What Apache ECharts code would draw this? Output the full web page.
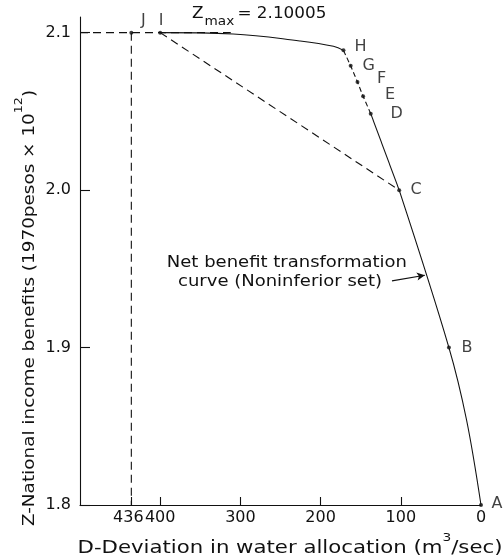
<!DOCTYPE html>
<html>
<head>
<meta charset="utf-8">
<script src="https://cdn.jsdelivr.net/npm/echarts@6/dist/echarts.min.js"></script>
<style>
  html, body { margin: 0; padding: 0; background: #fff; }
  #chart { width: 504px; height: 559px; }
</style>
</head>
<body>
<div id="chart"></div>
<script>
// Named points on the net benefit transformation curve
const pointNames = ['J', 'I', 'H', 'G', 'F', 'E', 'D', 'C', 'B', 'A'];
const pointD = [436, 400, 171.5, 162.5, 154, 147, 137.5, 102, 40, 0];
const pointZ = [2.10005, 2.10005, 2.0888, 2.079, 2.0687, 2.0596, 2.0486, 2.0, 1.9, 1.8];

// Upper part of the curve, from I to H
const upperD = [400, 309, 226, 184, 171.5];
const upperZ = [2.10005, 2.0992, 2.0948, 2.0914, 2.0888];

// Lower part of the curve, from C through B to A
const lowerD = [102, 40, 18, 0];
const lowerZ = [2.0, 1.9, 1.854, 1.8];

// Maximum benefit and the guide lines
const zMax = 2.10005;
const zMaxLineEnd = 312;

// Axis ticks
const xTicks = [436, 400, 300, 200, 100, 0];
const yTicks = [1.8, 1.9, 2.0, 2.1];

const ink = '#111';
const font = '"DejaVu Sans", sans-serif';

const zip = (a, b) => a.map((v, i) => [v, b[i]]);
const idx = n => pointNames.indexOf(n);
const pt = n => [pointD[idx(n)], pointZ[idx(n)]];

// Label offsets for each named point (pixels from the dot)
const labelOffset = {
  J: [12, -12], I: [1, -12], H: [17, -4], G: [18, 0], F: [24, -3],
  E: [27, -1], D: [26, 0], C: [17, 0], B: [18, 0], A: [16, -1]
};

const chart = echarts.init(document.getElementById('chart'), null, { renderer: 'canvas' });

const solid = { color: ink, width: 1.1, type: 'solid' };
const dashed = { color: ink, width: 1.1, type: [8, 5] };

// Wide, hand-lettered look: stretch text along its baseline
const lettering = (text, x, y, size, stretch, extra) => Object.assign({
  type: 'text', x: x, y: y, scaleX: stretch,
  style: {
    text: text, align: 'center', verticalAlign: 'middle', fill: ink,
    fontSize: size, fontFamily: font,
    rich: {
      n: { fontSize: size, fontFamily: font, fill: ink, lineHeight: 24, verticalAlign: 'bottom' },
      s: { fontSize: 11, fontFamily: font, fill: ink, lineHeight: 24, verticalAlign: 'top' }
    }
  }
}, extra || {});

const option = {
  animation: false,
  backgroundColor: '#fff',
  grid: { left: 80, right: 23, top: 17, bottom: 54 },
  xAxis: {
    type: 'value',
    inverse: true,
    min: 0,
    max: 500,
    axisLine: { show: true, onZero: false, lineStyle: { color: ink, width: 1.1 } },
    axisTick: { show: true, inside: true, length: 8, customValues: xTicks.filter(v => v !== 0), lineStyle: { color: ink, width: 1.1 } },
    axisLabel: {
      customValues: xTicks, hideOverlap: false, interval: 0, margin: 5,
      fontSize: 16, color: ink, fontFamily: font,
      formatter: v => (v === 436 ? '{l|436}' : String(v)),
      rich: { l: { fontSize: 16, color: ink, fontFamily: font, padding: [0, 6, 0, 0] } }
    },
    splitLine: { show: false }
  },
  yAxis: {
    type: 'value',
    min: 1.8,
    max: 2.11,
    axisLine: { show: true, onZero: false, lineStyle: { color: ink, width: 1.1 } },
    axisTick: { show: true, inside: true, length: 10, customValues: yTicks, lineStyle: { color: ink, width: 1.1 } },
    axisLabel: { customValues: yTicks, margin: 9, fontSize: 16, color: ink, fontFamily: font, formatter: v => v.toFixed(1) },
    splitLine: { show: false }
  },
  series: [
    {
      type: 'line', data: zip(upperD, upperZ), smooth: 0.4, symbol: 'none',
      lineStyle: solid, z: 3,
      markLine: {
        silent: true, symbol: ['none', 'arrow'], symbolSize: [6, 8],
        label: { show: false },
        lineStyle: { color: ink, width: 1.1, type: 'solid' },
        data: [[{ coord: [111, 1.9424] }, { coord: [70, 1.946] }]]
      }
    },
    {
      type: 'line', data: ['H', 'G', 'F', 'E', 'D'].map(pt), symbol: 'none',
      lineStyle: { color: ink, width: 1.1, type: [5, 3] }, z: 3
    },
    { type: 'line', data: [pt('D'), pt('C')], symbol: 'none', lineStyle: solid, z: 3 },
    { type: 'line', data: zip(lowerD, lowerZ), smooth: 0.35, symbol: 'none', lineStyle: solid, z: 3 },
    // Guide lines: Zmax level, J down to the axis, I across to C
    { type: 'line', data: [[500, zMax], [zMaxLineEnd, zMax]], symbol: 'none', lineStyle: dashed, z: 2 },
    { type: 'line', data: [pt('J'), [pointD[idx('J')], 1.8]], symbol: 'none', lineStyle: dashed, z: 2 },
    { type: 'line', data: [pt('I'), pt('C')], symbol: 'none', lineStyle: dashed, z: 2 },
    {
      type: 'scatter',
      symbolSize: 4,
      itemStyle: { color: ink },
      z: 5,
      data: pointNames.map((n, i) => ({
        name: n,
        value: [pointD[i], pointZ[i]],
        label: {
          show: true, position: 'inside', offset: labelOffset[n],
          formatter: n, fontSize: 16, color: ink, fontFamily: font
        }
      }))
    }
  ],
  graphic: [
    lettering('{n|Z-National income benefits (1970pesos × 10}{s|12}{n|)}', 26, 308, 16, 1.15, { rotation: Math.PI / 2 }),
    lettering('{n|D-Deviation in water allocation (m}{s|3}{n|/sec)}', 290, 545, 17, 1.25),
    {
      type: 'text', x: 192, y: 17, scaleX: 1.05,
      style: {
        text: '{z|Z}{m|max}{z|= 2.10005}',
        align: 'left', verticalAlign: 'middle', fill: ink,
        rich: {
          z: { fontSize: 16, fontFamily: font, fill: ink, lineHeight: 22, verticalAlign: 'top' },
          m: { fontSize: 13, fontFamily: font, fill: ink, lineHeight: 22, verticalAlign: 'bottom', padding: [0, 3, 0, 1] }
        }
      }
    },
    {
      type: 'text', x: 407, y: 263, scaleX: 1.2,
      style: { text: 'Net benefit transformation', align: 'right', verticalAlign: 'middle', fontSize: 15, fontFamily: font, fill: ink }
    },
    {
      type: 'text', x: 382, y: 282, scaleX: 1.2,
      style: { text: 'curve (Noninferior set)', align: 'right', verticalAlign: 'middle', fontSize: 15, fontFamily: font, fill: ink }
    }
  ]
};

chart.setOption(option);
</script>
</body>
</html>
